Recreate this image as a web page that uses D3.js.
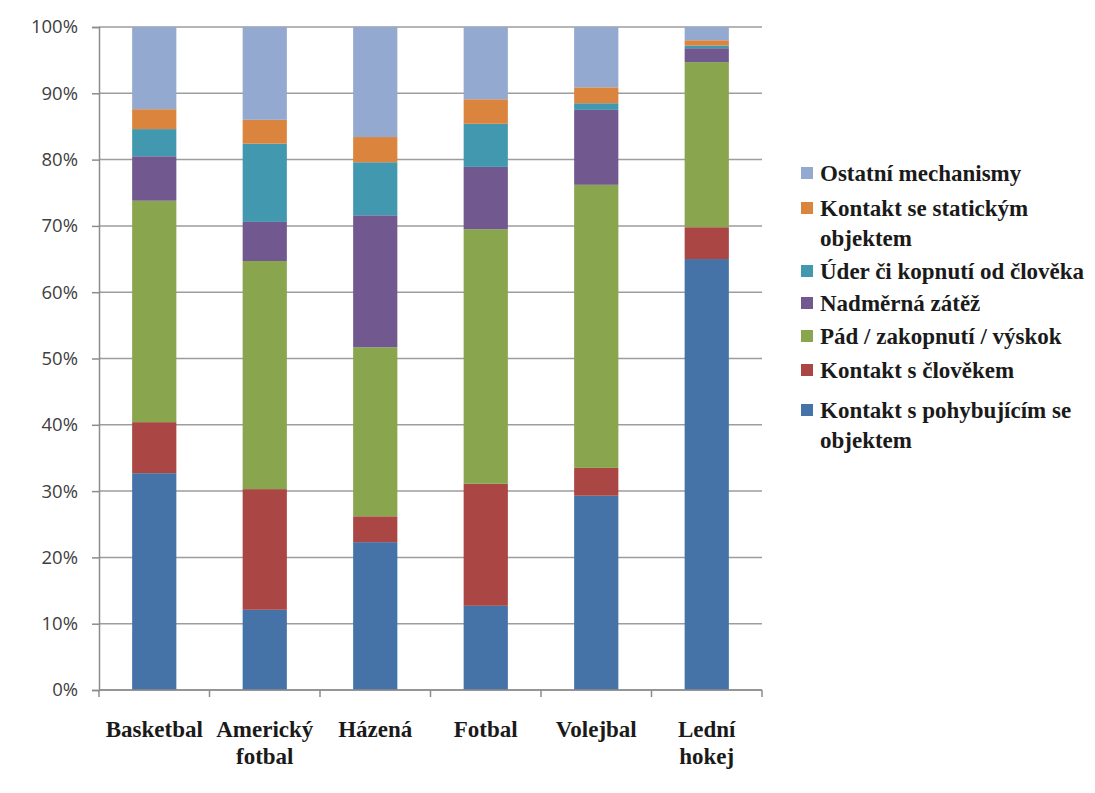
<!DOCTYPE html>
<html>
<head>
<meta charset="utf-8">
<script src="https://cdn.jsdelivr.net/npm/d3@7"></script>
<style>
  body { margin: 0; background: #fff; }
</style>
</head>
<body>
<svg id="chart" width="1095" height="793"></svg>
<script>
// sports (x categories)
const sports = [["Basketbal"], ["Americký", "fotbal"], ["Házená"], ["Fotbal"], ["Volejbal"], ["Lední", "hokej"]];

// series, bottom to top
const mechanisms = [
  "Kontakt s pohybujícím se objektem",
  "Kontakt s člověkem",
  "Pád / zakopnutí / výskok",
  "Nadměrná zátěž",
  "Úder či kopnutí od člověka",
  "Kontakt se statickým objektem",
  "Ostatní mechanismy"
];

// percent per sport, same order as sports
const movingObject   = [32.7, 12.1, 22.3, 12.7, 29.3, 65.0];
const personContact  = [7.7, 18.2, 3.9, 18.4, 4.2, 4.8];
const fallTrip       = [33.4, 34.4, 25.5, 38.4, 42.7, 24.9];
const overload       = [6.7, 5.9, 19.9, 9.4, 11.3, 2.1];
const hitKick        = [4.1, 11.8, 8.0, 6.5, 1.0, 0.4];
const staticObject   = [3.0, 3.6, 3.8, 3.7, 2.4, 0.8];
const otherMech      = [12.4, 14.0, 16.6, 10.9, 9.1, 2.0];

const yTicks = [0, 10, 20, 30, 40, 50, 60, 70, 80, 90, 100];

const colors = ["#4572A7", "#AA4643", "#89A54E", "#71588F", "#4198AF", "#DB843D", "#93A9CF"];

// legend rows (top to bottom), wrapped as in the picture
const legendRows = [
  { i: 6, lines: ["Ostatní mechanismy"] },
  { i: 5, lines: ["Kontakt se statickým", "objektem"] },
  { i: 4, lines: ["Úder či kopnutí od člověka"] },
  { i: 3, lines: ["Nadměrná zátěž"] },
  { i: 2, lines: ["Pád / zakopnutí / výskok"] },
  { i: 1, lines: ["Kontakt s člověkem"] },
  { i: 0, lines: ["Kontakt s pohybujícím se", "objektem"] }
];

const seriesVals = [movingObject, personContact, fallTrip, overload, hitKick, staticObject, otherMech];

const serifFont = "'Liberation Serif', 'DejaVu Serif', 'Times New Roman', serif";
const sansFont = "'Open Sans', 'Liberation Sans', sans-serif";

const table = sports.map((s, j) => {
  const row = { sport: s.join(" ") };
  mechanisms.forEach((m, i) => { row[m] = seriesVals[i][j]; });
  return row;
});

const svg = d3.select("#chart");
const margin = { left: 99, top: 27 };
const width = 663, height = 663;
const g = svg.append("g").attr("transform", `translate(${margin.left},${margin.top})`);

const x = d3.scaleBand()
  .domain(table.map(d => d.sport))
  .range([0, width])
  .paddingInner(0.6)
  .paddingOuter(0.3);

const y = d3.scaleLinear().domain([0, 100]).range([height, 0]);

// gridlines
g.append("g")
  .selectAll("line")
  .data(yTicks)
  .enter()
  .append("line")
  .attr("x1", 0).attr("x2", width)
  .attr("y1", d => y(d)).attr("y2", d => y(d))
  .attr("stroke", "#9d9d9d")
  .attr("stroke-width", 1.5);

const stack = d3.stack().keys(mechanisms);
const layers = stack(table);

g.append("g")
  .selectAll("g")
  .data(layers)
  .enter()
  .append("g")
  .attr("fill", (d, i) => colors[i])
  .selectAll("rect")
  .data(d => d)
  .enter()
  .append("rect")
  .attr("x", d => x(d.data.sport))
  .attr("width", x.bandwidth())
  .attr("y", d => y(d[1]))
  .attr("height", d => y(d[0]) - y(d[1]));

// y axis
const yAxis = g.append("g")
  .call(d3.axisLeft(y).tickValues(yTicks).tickFormat(d => d + "%").tickSize(7).tickPadding(14));
yAxis.select(".domain").attr("stroke", "#8c8c8c").attr("stroke-width", 1.5);
yAxis.selectAll(".tick line").attr("stroke", "#8c8c8c").attr("stroke-width", 1.5);
yAxis.selectAll(".tick text")
  .style("font-family", sansFont)
  .style("font-size", "18.5px")
  .attr("fill", "#404040");

// x axis line with boundary ticks
const bounds = d3.range(sports.length + 1).map(k => k * width / sports.length);
g.append("line")
  .attr("x1", 0).attr("x2", width)
  .attr("y1", height).attr("y2", height)
  .attr("stroke", "#8c8c8c").attr("stroke-width", 1.5);
g.append("g")
  .selectAll("line")
  .data(bounds)
  .enter()
  .append("line")
  .attr("x1", d => d).attr("x2", d => d)
  .attr("y1", height).attr("y2", height + 7)
  .attr("stroke", "#8c8c8c").attr("stroke-width", 1.5);

// x labels
g.append("g")
  .selectAll("text")
  .data(table)
  .enter()
  .append("text")
  .style("font-family", serifFont)
  .style("font-weight", "bold")
  .style("font-size", "23px")
  .attr("fill", "#1a1a1a")
  .attr("text-anchor", "middle")
  .attr("transform", d => `translate(${x(d.sport) + x.bandwidth() / 2},${height + 47})`)
  .each(function(d, j) {
    sports[j].forEach((line, k) => {
      d3.select(this).append("tspan")
        .attr("x", 0)
        .attr("dy", k === 0 ? 0 : 27)
        .text(line);
    });
  });

// legend
const legY = [175, 210, 273, 305, 338, 372, 412];
const leg = svg.append("g");
legendRows.forEach((r, k) => {
  const row = leg.append("g").attr("transform", `translate(801,${legY[k]})`);
  row.append("rect")
    .attr("x", 0).attr("y", -8)
    .attr("width", 12).attr("height", 12)
    .attr("fill", colors[r.i]);
  const t = row.append("text")
    .style("font-family", serifFont)
    .style("font-weight", "bold")
    .style("font-size", "23px")
    .attr("fill", "#1a1a1a")
    .attr("x", 19).attr("y", 6);
  r.lines.forEach((line, n) => {
    t.append("tspan").attr("x", 19).attr("dy", n === 0 ? 0 : 30).text(line);
  });
});
</script>
</body>
</html>
